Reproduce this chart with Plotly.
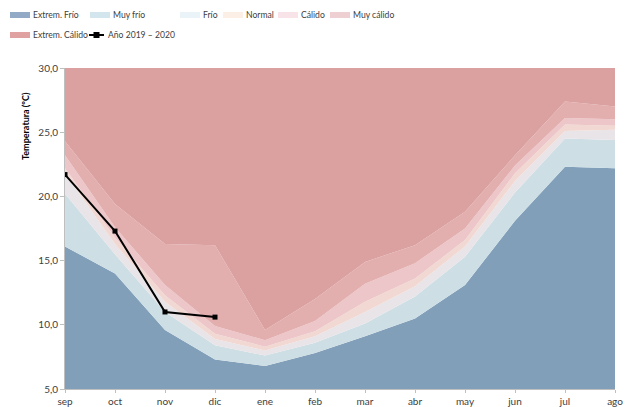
import plotly.graph_objects as go

months = ["sep", "oct", "nov", "dic", "ene", "feb", "mar", "abr", "may", "jun", "jul", "ago"]

# upper boundary of each band (ºC)
extrem_frio = [16.1, 14.0, 9.6, 7.3, 6.8, 7.8, 9.1, 10.5, 13.1, 18.1, 22.3, 22.2]
muy_frio    = [20.2, 15.5, 11.0, 8.4, 7.6, 8.6, 10.1, 12.2, 15.3, 20.3, 24.5, 24.4]
frio        = [21.8, 16.3, 11.8, 8.9, 8.0, 9.1, 11.0, 13.0, 16.1, 21.2, 25.1, 25.2]
normal      = [22.2, 16.8, 12.3, 9.3, 8.3, 9.5, 11.8, 13.6, 16.6, 21.8, 25.6, 25.5]
calido      = [23.2, 17.6, 13.1, 9.9, 8.8, 10.3, 13.2, 14.8, 17.5, 22.4, 26.1, 26.0]
muy_calido  = [24.3, 19.4, 16.3, 16.2, 9.6, 12.0, 14.9, 16.2, 18.8, 23.2, 27.4, 27.0]
extrem_calido = [30.0] * 12

anio_months = ["sep", "oct", "nov", "dic"]
anio_values = [21.7, 17.3, 11.0, 10.6]

series_names = ["Extrem. Frío", "Muy frío", "Frío", "Normal", "Cálido", "Muy cálido", "Extrem. Cálido"]
line_name = "Año 2019 – 2020"
y_title = "Temperatura (ºC)"

band_values = [extrem_frio, muy_frio, frio, normal, calido, muy_calido, extrem_calido]
fill_colors = ["#829fba", "#cddfe5", "#e8e4e7", "#f2d8d2", "#ecc6c8", "#e3aeae", "#dba0a0"]
legend_colors = ["#93aac6", "#d3e6ee", "#eaf3f8", "#fcefe6", "#f8e4e8", "#efd0d2", "#e0a1a1"]

# the page body has an 8px default margin; work in window pixels and compensate
OFF = 8
W, H = 635 - OFF, 407 - OFF
PLOT_L, PLOT_R, PLOT_T, PLOT_B = 65, 615, 68, 389   # window pixels
L = PLOT_L - OFF
R = W - (PLOT_R - OFF)
T = PLOT_T - OFF
B = H - (PLOT_B - OFF)
PW, PH = W - L - R, H - T - B

def px_x(px):
    return (px - OFF - L) / PW

def px_y(py):
    return (H - B - (py - OFF)) / PH

fig = go.Figure()
for i, (name, vals, col) in enumerate(zip(series_names, band_values, fill_colors)):
    fig.add_trace(go.Scatter(
        x=months, y=vals, name=name, mode="lines",
        line=dict(width=0, color=col),
        fill="tozeroy" if i == 0 else "tonexty",
        fillcolor=col, hoverinfo="skip", showlegend=False,
    ))

fig.add_trace(go.Scatter(
    x=anio_months, y=anio_values, name=line_name, mode="lines+markers",
    line=dict(color="black", width=2),
    marker=dict(symbol="square", size=5, color="black"),
    showlegend=False,
))

# custom legend (swatch left x, row y) in window pixels
swatch_pos = [(10, 15), (90, 15), (180, 15), (223, 15), (278, 15), (330, 15), (10, 35)]
shapes = []
annotations = []
font = dict(family="Lato, Open Sans, sans-serif", size=8.6, color="#404040")
for (sx, sy), col, name in zip(swatch_pos, legend_colors, series_names):
    shapes.append(dict(type="rect", xref="paper", yref="paper",
                       x0=px_x(sx), x1=px_x(sx + 20), y0=px_y(sy + 3), y1=px_y(sy - 3),
                       fillcolor=col, line=dict(width=0), layer="above"))
    annotations.append(dict(text=name, xref="paper", yref="paper",
                            x=px_x(sx + 21), y=px_y(sy), xanchor="left", yanchor="middle",
                            showarrow=False, font=font))
# line legend item
shapes.append(dict(type="line", xref="paper", yref="paper",
                   x0=px_x(89), x1=px_x(104), y0=px_y(35), y1=px_y(35),
                   line=dict(color="black", width=2)))
shapes.append(dict(type="rect", xref="paper", yref="paper",
                   x0=px_x(93.5), x1=px_x(99.5), y0=px_y(38), y1=px_y(32),
                   fillcolor="black", line=dict(width=0)))
annotations.append(dict(text=line_name, xref="paper", yref="paper",
                        x=px_x(106), y=px_y(35), xanchor="left", yanchor="middle",
                        showarrow=False, font=font))
# y-axis title (placed high like the reference)
annotations.append(dict(text="<b>" + y_title + "</b>", xref="paper", yref="paper",
                        x=px_x(25), y=px_y(126), xanchor="center", yanchor="middle",
                        textangle=-90, showarrow=False,
                        font=dict(family="Lato, Open Sans, sans-serif", size=9, color="#000000")))

fig.update_layout(
    width=W, height=H,
    margin=dict(l=L, r=R, t=T, b=B, autoexpand=False),
    paper_bgcolor="white", plot_bgcolor="white",
    separators=",.",
    showlegend=False,
    shapes=shapes, annotations=annotations,
)

tick_font = dict(family="Lato, Open Sans, sans-serif", size=10, color="#404040")
fig.update_xaxes(
    type="category", range=[0, 11],
    showgrid=False, zeroline=False,
    showline=True, linecolor="#bfbfbf", linewidth=1,
    ticks="outside", ticklen=3, tickcolor="#bfbfbf",
    tickfont=tick_font,
)
fig.update_yaxes(
    range=[5, 30], dtick=5, tickformat=".1f",
    showgrid=False, zeroline=False,
    showline=True, linecolor="#bfbfbf", linewidth=1,
    ticks="outside", ticklen=4, tickcolor="#bfbfbf",
    tickfont=tick_font,
)

fig.write_html("out.html")
